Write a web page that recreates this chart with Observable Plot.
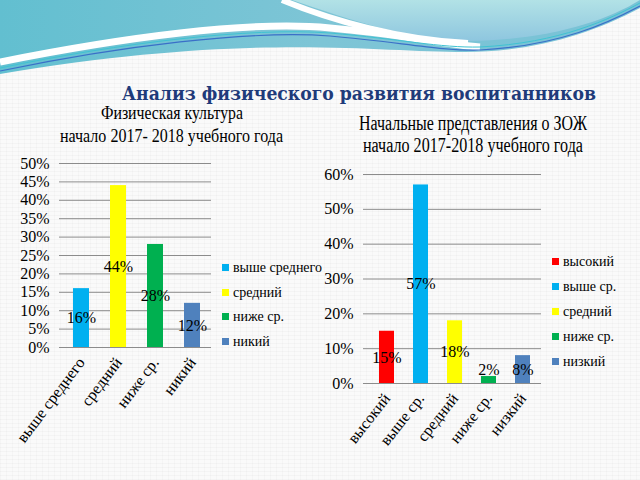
<!DOCTYPE html>
<html>
<head>
<meta charset="utf-8">
<script src="https://cdn.jsdelivr.net/npm/d3@7"></script>
<script src="https://cdn.jsdelivr.net/npm/@observablehq/plot@0.6"></script>
<style>
  html, body { margin: 0; padding: 0; }
  body {
    width: 640px; height: 480px; overflow: hidden; position: relative;
    background-color: #fafafa;
    background-image:
      repeating-linear-gradient(0deg, rgba(0,0,0,0.025) 0 1px, transparent 1px 4px),
      repeating-linear-gradient(90deg, rgba(0,0,0,0.02) 0 1px, transparent 1px 6px);
    font-family: "Liberation Serif", "Times New Roman", Tinos, "DejaVu Serif", serif;
  }
  .abs { position: absolute; }
  .legend-item { position: absolute; font-size: 14px; color: #000; white-space: nowrap; line-height: 16px; }
  .legend-item span.sw { display: inline-block; width: 7px; height: 7px; margin-right: 4px; vertical-align: 1px; }
</style>
</head>
<body>
<script>
// ---- data ----
const leftCategories = ["выше среднего", "средний", "ниже ср.", "никий"];
const leftValues = [0.16, 0.44, 0.28, 0.12];
const leftColors = ["#00b0f0", "#ffff00", "#00b050", "#4f81bd"];
const leftTicks = [0, 0.05, 0.10, 0.15, 0.20, 0.25, 0.30, 0.35, 0.40, 0.45, 0.50];

const rightCategories = ["высокий", "выше ср.", "средний", "ниже ср.", "низкий"];
const rightLegendLabels = ["высокий", "выше ср.", "средний", "ниже ср.", "низкий"];
const rightValues = [0.15, 0.57, 0.18, 0.02, 0.08];
const rightColors = ["#ff0000", "#00b0f0", "#ffff00", "#00b050", "#4f81bd"];
const rightTicks = [0, 0.10, 0.20, 0.30, 0.40, 0.50, 0.60];

const mainTitle = "Анализ физического развития воспитанников";
const leftTitle = ["Физическая культура", "начало 2017- 2018 учебного года"];
const rightTitle = ["Начальные представления о ЗОЖ", "начало 2017-2018 учебного года"];

const font = "'Liberation Serif', 'Times New Roman', Tinos, 'DejaVu Serif', serif";

// ---- background decoration ----
const NS = "http://www.w3.org/2000/svg";
const bg = document.createElementNS(NS, "svg");
bg.setAttribute("width", 640); bg.setAttribute("height", 480);
bg.setAttribute("class", "abs"); bg.style.left = "0px"; bg.style.top = "0px";
bg.innerHTML = `
<defs>
  <linearGradient id="gTeal" x1="0" y1="0" x2="1" y2="0">
    <stop offset="0" stop-color="#62bfd0"/>
    <stop offset="0.5" stop-color="#7ec5d6"/>
    <stop offset="1" stop-color="#78c2d6"/>
  </linearGradient>
  <linearGradient id="gLight" x1="0" y1="0" x2="0" y2="1">
    <stop offset="0" stop-color="#b2e2e6"/>
    <stop offset="1" stop-color="#8ec6df"/>
  </linearGradient>
</defs>
<path d="M0,0 H640 V8 C590,35 530,52 465,52 C370,52 250,32 0,74 Z" fill="url(#gTeal)"/>
<path d="M0,62 C120,38 250,20 330,28 C400,34 440,44 480,47" fill="none" stroke="#ffffff" stroke-width="7"/>
<path d="M292,0 H640 V0 C605,22 545,40 470,41 C410,40 350,20 292,0 Z" fill="url(#gLight)"/>
<path d="M282,0 C330,20 400,40 468,43" fill="none" stroke="#ffffff" stroke-width="6"/>
<path d="M0,71 C120,46 250,30 330,36 C400,42 440,51 480,50 C560,46 610,22 640,6" fill="none" stroke="#3a6fc8" stroke-width="1.2"/>
<path d="M0,68 C120,43 250,27 330,33 C400,39 440,48 480,47 C560,43 610,19 640,3" fill="none" stroke="#3fc3d2" stroke-width="1"/>
`;
document.body.appendChild(bg);

// ---- titles ----
const tsvg = document.createElementNS(NS, "svg");
tsvg.setAttribute("width", 640); tsvg.setAttribute("height", 480);
tsvg.setAttribute("class", "abs"); tsvg.style.left = "0px"; tsvg.style.top = "0px";
tsvg.style.pointerEvents = "none";
function addText(str, x, y, len, size, opts = {}) {
  const t = document.createElementNS(NS, "text");
  t.textContent = str;
  t.setAttribute("x", x); t.setAttribute("y", y);
  t.setAttribute("textLength", len);
  t.setAttribute("lengthAdjust", "spacingAndGlyphs");
  t.setAttribute("font-size", size);
  t.style.fontFamily = opts.family || font;
  if (opts.weight) t.setAttribute("font-weight", opts.weight);
  t.setAttribute("fill", opts.fill || "#000");
  tsvg.appendChild(t);
}
addText(mainTitle, 122, 100, 474, 18, {family: "'DejaVu Serif', serif", weight: "bold", fill: "#1f3b7a"});
addText(leftTitle[0], 101, 119, 142, 19);
addText(leftTitle[1], 60, 142, 223, 19);
addText(rightTitle[0], 359, 130, 228, 20);
addText(rightTitle[1], 363, 152, 220, 20);

// ---- charts ----
const pct = d => Math.round(d * 100) + "%";

function chart({cats, values, colors, ticks, yMax, width, height, mt, mb, ml, mr, inset, rotate, minLabel}) {
  const data = cats.map((c, i) => ({cat: c, value: values[i]}));
  return Plot.plot({
    width, height,
    marginTop: mt, marginBottom: mb, marginLeft: ml, marginRight: mr,
    style: {background: "transparent", overflow: "visible", fontFamily: font, color: "#000"},
    x: {domain: cats, paddingInner: 0.57, paddingOuter: 0.285, insetLeft: inset},
    y: {domain: [0, yMax]},
    color: {domain: cats, range: colors},
    marks: [
      Plot.gridY(ticks, {stroke: "#8c8c8c", strokeOpacity: 1, strokeWidth: 1}),
      Plot.barY(data, {x: "cat", y: "value", fill: "cat"}),
      Plot.text(data, {x: "cat", y: d => Math.max(d.value / 2, minLabel), text: d => pct(d.value),
        fontSize: 16, fill: "#000"}),
      Plot.axisY(ticks, {tickFormat: pct, tickSize: 0, tickPadding: 10, fontSize: 16, label: null}),
      Plot.axisX({tickRotate: rotate, tickSize: 0, tickPadding: 12, fontSize: 16, label: null})
    ]
  });
}

const left = chart({cats: leftCategories, values: leftValues, colors: leftColors, ticks: leftTicks, yMax: 0.5,
  width: 220, height: 330, mt: 13, mb: 133, ml: 59, mr: 9, inset: 3, rotate: -53, minLabel: 0});
left.classList.add("abs"); left.style.left = "0px"; left.style.top = "150px";
document.body.appendChild(left);

const right = chart({cats: rightCategories, values: rightValues, colors: rightColors, ticks: rightTicks, yMax: 0.6,
  width: 222, height: 330, mt: 24, mb: 97, ml: 43, mr: 1, inset: 4, rotate: -52, minLabel: 0.04});
right.classList.add("abs"); right.style.left = "320px"; right.style.top = "150px";
document.body.appendChild(right);

// ---- legends ----
function legend(labels, colors, x, y0, step) {
  labels.forEach((lab, i) => {
    const d = document.createElement("div");
    d.className = "legend-item";
    d.style.left = x + "px";
    d.style.top = (y0 + i * step - 8) + "px";
    d.innerHTML = `<span class="sw" style="background:${colors[i]}"></span>${lab}`;
    document.body.appendChild(d);
  });
}
legend(leftCategories, leftColors, 222, 268, 24.7);
legend(rightLegendLabels, rightColors, 552, 262, 25);

document.body.appendChild(tsvg);
</script>
</body>
</html>
